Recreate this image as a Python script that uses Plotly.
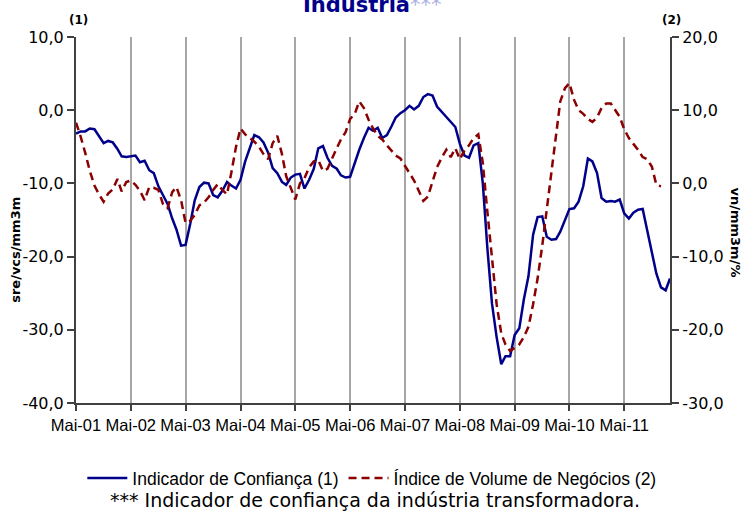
import pandas as pd
import plotly.graph_objects as go

# Indicador de confiança (eixo 1, sre/vcs/mm3m) - Mai-01 a Mar-12
confianca = [
    -3.2, -2.9, -2.9, -2.5, -2.6, -3.5, -4.5, -4.2, -4.4, -5.3, -6.3, -6.4,
    -6.3, -6.2, -7.1, -6.9, -8.2, -8.6, -10.4, -11.5, -12.8, -14.8, -16.3, -18.5,
    -18.4, -15.5, -12.3, -10.5, -9.9, -10.0, -11.6, -11.9, -11.0, -9.8, -10.3, -10.7,
    -9.5, -7.0, -5.2, -3.4, -3.7, -4.4, -5.8, -7.9, -8.6, -9.8, -10.2, -9.2,
    -8.8, -8.7, -10.7, -9.5, -8.0, -5.2, -4.9, -6.5, -7.6, -8.0, -8.9, -9.2,
    -9.1, -7.2, -5.4, -3.8, -2.4, -2.8, -2.4, -3.8, -3.4, -2.2, -1.0, -0.4,
    0.0, 0.6, 0.1, 0.6, 1.8, 2.2, 2.0, 0.5, -0.2, -0.8, -1.6, -2.3,
    -4.6, -6.2, -6.5, -4.8, -4.5, -10.0, -19.0, -26.4, -31.0, -34.7, -33.6, -33.6,
    -30.7, -29.8, -25.9, -22.7, -17.0, -14.6, -14.5, -17.3, -17.7, -17.6, -16.6, -15.0,
    -13.5, -13.4, -12.5, -10.4, -6.6, -7.0, -8.6, -12.0, -12.5, -12.4, -12.5, -12.2,
    -14.1, -14.8, -14.0, -13.6, -13.5, -16.4, -19.5, -22.3, -24.2, -24.6, -23.0,
]

# Indice de volume de negocios (eixo 2, vn/mm3m/%) - Mai-01 a Jan-12
volume = [
    8.3, 6.4, 4.2, 1.7, -0.3, -1.5, -2.5, -1.4, -0.8, 0.6, -1.1, 0.2,
    0.4, -0.2, -1.0, -2.3, -0.5, -0.6, -0.9, -2.8, -3.4, -1.2, -0.5, -2.3,
    -5.4, -5.1, -4.3, -3.0, -2.6, -1.9, -0.9, -0.1, -0.9, -1.5, 1.5, 5.0,
    7.5, 6.7, 6.2, 5.7, 5.0, 4.0, 3.3, 5.5, 6.5, 4.0, 1.0, -0.5,
    -2.2, 0.0, 0.7, 2.2, 3.0, 3.2, 1.7, 2.0, 3.5, 4.8, 6.0, 7.0,
    8.8, 9.5, 11.2, 10.3, 8.7, 7.5, 6.5, 6.0, 5.2, 4.5, 3.8, 3.4,
    2.4, 1.4, 0.4, -1.0, -2.4, -1.8, 0.2, 2.2, 3.5, 4.6, 3.6, 4.8,
    3.3, 4.5, 5.2, 6.2, 6.7, 2.8, -4.0, -10.0, -16.5, -20.5, -22.0, -22.9,
    -22.5, -22.0, -21.0, -19.6, -16.5, -13.0, -8.5, -3.5, 2.0, 7.0, 11.2, 13.0,
    13.7, 11.4, 10.0, 9.5, 8.8, 8.4, 9.0, 10.3, 10.9, 10.9, 10.0, 9.1,
    7.4, 6.2, 5.4, 4.6, 3.6, 3.3, 2.3, -0.2, -0.4,
]

x_labels = ["Mai-01", "Mai-02", "Mai-03", "Mai-04", "Mai-05", "Mai-06",
            "Mai-07", "Mai-08", "Mai-09", "Mai-10", "Mai-11"]
y1_ticks = [-40, -30, -20, -10, 0, 10]
y1_labels = ["-40,0", "-30,0", "-20,0", "-10,0", "0,0", "10,0"]
y2_ticks = [-30, -20, -10, 0, 10, 20]
y2_labels = ["-30,0", "-20,0", "-10,0", "0,0", "10,0", "20,0"]

meses = pd.date_range("2001-05-01", periods=len(confianca), freq="MS")

AXIS_COLOR = '#404040'
FONT = 'DejaVu Sans'
NARROW = 'Liberation Sans'

fig = go.Figure()

fig.add_trace(go.Scatter(
    x=meses, y=confianca,
    mode='lines', name='Indicador de Confiança (1)',
    line=dict(color='#00008B', width=2.5),
))

fig.add_trace(go.Scatter(
    x=meses[:len(volume)], y=volume,
    mode='lines', name='Índice de Volume de Negócios (2)',
    line=dict(color='#8B0000', width=2.5, dash='8px,5px'),
    yaxis='y2'
))

fig.update_layout(
    width=741, height=513,
    margin=dict(l=76, r=71, t=37, b=110),
    paper_bgcolor='white', plot_bgcolor='white',
    font=dict(family=FONT, color='black', size=15),
    legend=dict(
        orientation='h',
        x=0.498, xanchor='center',
        y=-0.205, yanchor='middle',
        font=dict(family=NARROW, size=17.5),
        itemwidth=40,
    ),
    xaxis=dict(
        range=[meses[0], meses[-1]],
        tickvals=meses[::12], ticktext=x_labels,
        showgrid=True, gridcolor='#a6a6a6', gridwidth=1.5,
        showline=True, linecolor=AXIS_COLOR, linewidth=2,
        ticks='outside', ticklen=6, tickcolor=AXIS_COLOR, tickwidth=1.5,
        tickfont=dict(family=NARROW, size=16.5),
        zeroline=False,
    ),
    yaxis=dict(
        range=[-40, 10],
        tickvals=y1_ticks, ticktext=y1_labels,
        showgrid=False, zeroline=False,
        showline=True, linecolor=AXIS_COLOR, linewidth=2,
        ticks='outside', ticklen=7, tickcolor=AXIS_COLOR, tickwidth=1.5,
        tickfont=dict(size=16),
    ),
    yaxis2=dict(
        range=[-30, 20],
        tickvals=y2_ticks, ticktext=y2_labels,
        overlaying='y', side='right',
        showgrid=False, zeroline=False,
        showline=True, linecolor=AXIS_COLOR, linewidth=2,
        ticks='outside', ticklen=7, tickcolor=AXIS_COLOR, tickwidth=1.5,
        tickfont=dict(size=16),
    ),
)

# titulo (cortado no topo, como no original)
fig.add_annotation(
    text="<b>Indústria</b><span style='color:#aab0e0'>***</span>",
    xref='paper', yref='paper', x=0.378, y=1.05,
    xanchor='left', yanchor='bottom', showarrow=False,
    font=dict(size=21, color='#00008B'),
)
fig.add_annotation(text='<b>(1)</b>', xref='paper', yref='paper',
                   x=0.005, y=1.046, xanchor='center', yanchor='middle',
                   showarrow=False, font=dict(size=12))
fig.add_annotation(text='<b>(2)</b>', xref='paper', yref='paper',
                   x=1.003, y=1.046, xanchor='center', yanchor='middle',
                   showarrow=False, font=dict(size=12))
fig.add_annotation(text='<b>sre/vcs/mm3m</b>', xref='paper', yref='paper',
                   x=-0.103, y=0.418, xanchor='center', yanchor='middle',
                   textangle=-90, showarrow=False, font=dict(size=13))
fig.add_annotation(text='<b>vn/mm3m/%</b>', xref='paper', yref='paper',
                   x=1.111, y=0.466, xanchor='center', yanchor='middle',
                   textangle=90, showarrow=False, font=dict(size=13))
fig.add_annotation(text='*** Indicador de confiança da indústria transformadora.',
                   xref='paper', yref='paper', x=0.503, y=-0.265,
                   xanchor='center', yanchor='middle',
                   showarrow=False, font=dict(size=19))

# tirar a margem de 8px do body para a figura ficar encostada ao canto
fig.write_html("out.html", config={'displayModeBar': False},
               post_script="document.body.style.margin = '0';")
